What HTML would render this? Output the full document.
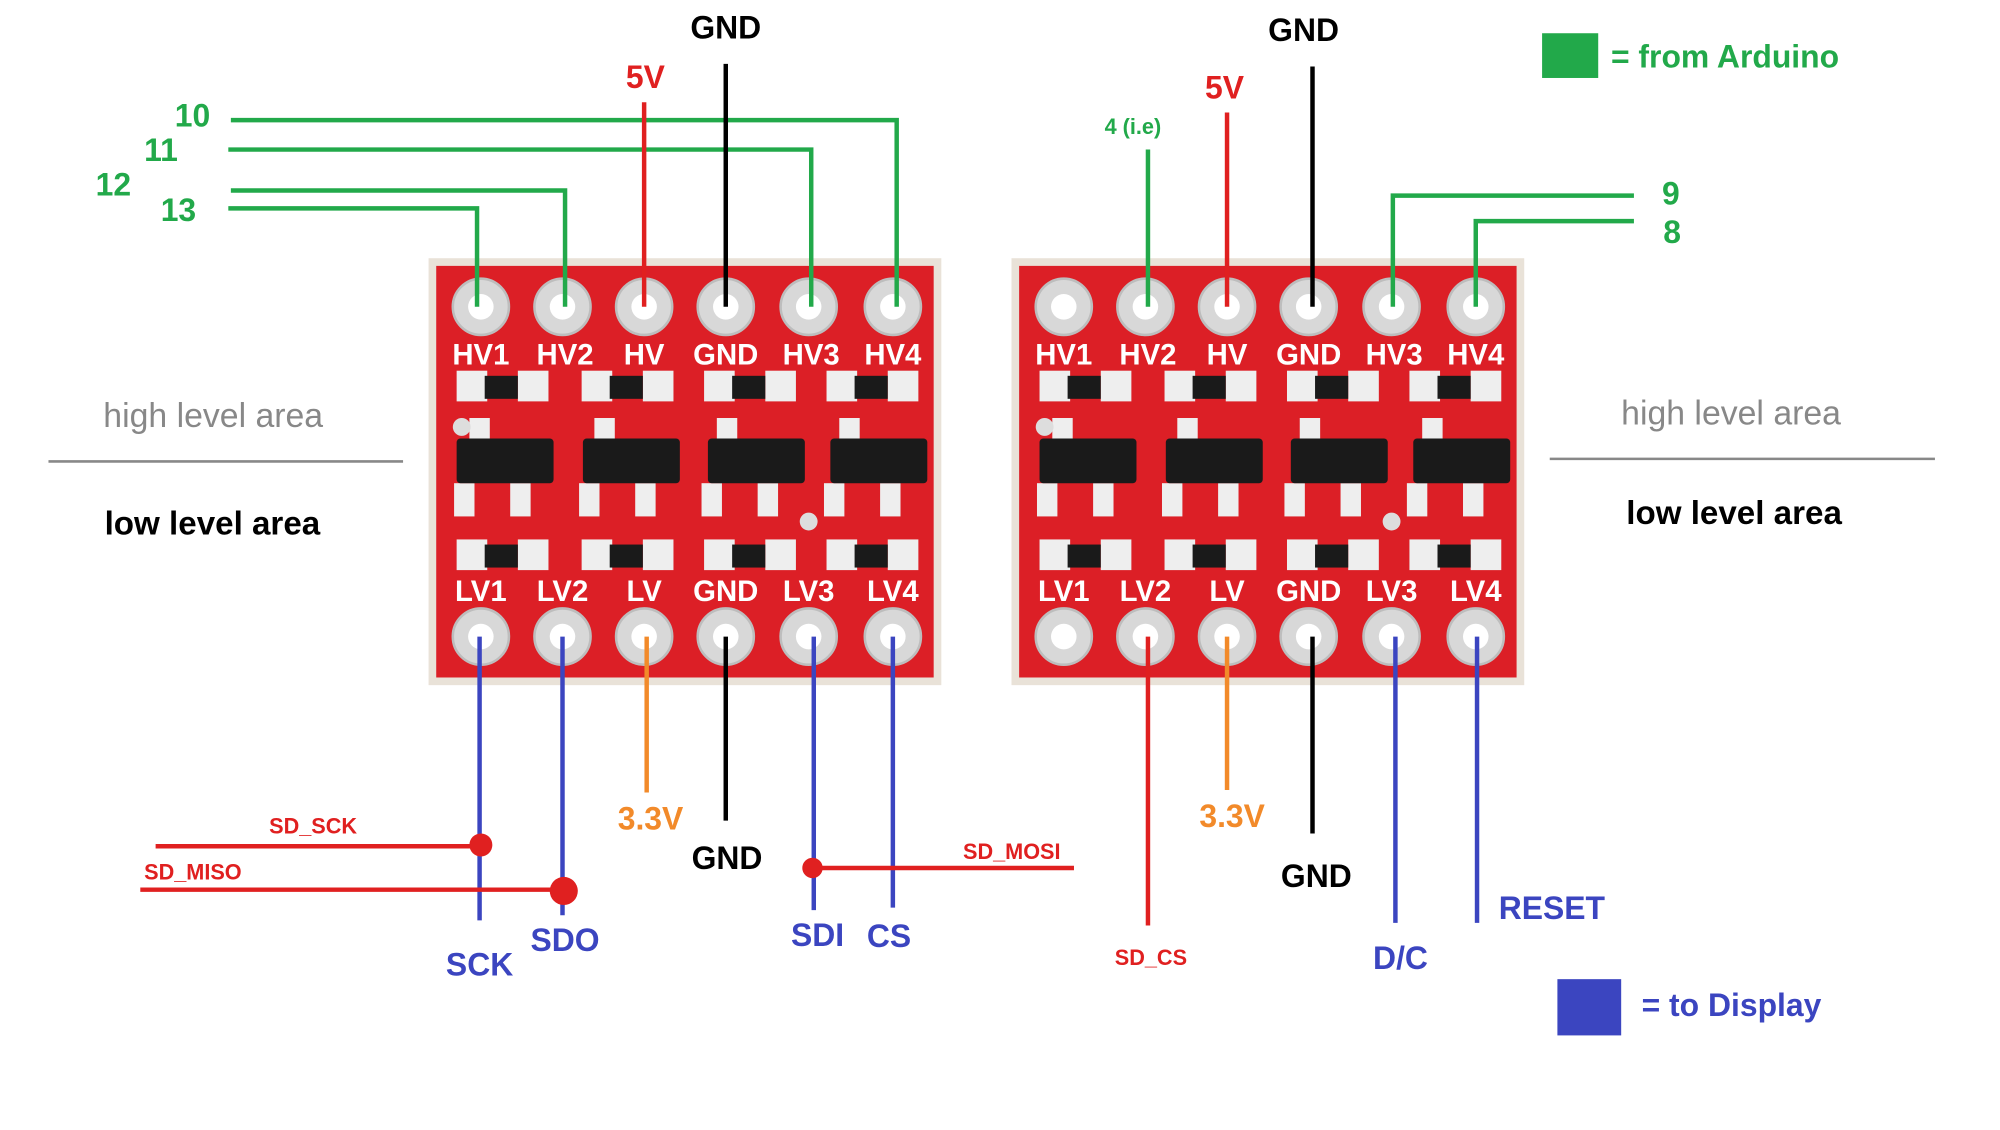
<!DOCTYPE html>
<html><head><meta charset="utf-8"><style>
html,body{margin:0;padding:0;background:#fff;width:2000px;height:1130px;overflow:hidden}
svg{display:block}
text{font-family:"Liberation Sans",sans-serif;font-weight:bold}
</style></head><body>
<svg width="2000" height="1130" viewBox="0 0 1568 884" preserveAspectRatio="none" xmlns="http://www.w3.org/2000/svg">
<defs>
<g id="board">
<rect x="0" y="0" width="402" height="334" fill="#e9e2d8"/>
<rect x="6" y="6" width="390" height="322" fill="#dc1f26"/>
<g fill="#d8d8d8" stroke="#bdbdbd" stroke-width="2">
<circle cx="41" cy="38" r="22"/><circle cx="105" cy="38" r="22"/><circle cx="169" cy="38" r="22"/><circle cx="233" cy="38" r="22"/><circle cx="298" cy="38" r="22"/><circle cx="364" cy="38" r="22"/>
<circle cx="41" cy="296" r="22"/><circle cx="105" cy="296" r="22"/><circle cx="169" cy="296" r="22"/><circle cx="233" cy="296" r="22"/><circle cx="298" cy="296" r="22"/><circle cx="364" cy="296" r="22"/>
</g>
<g fill="#fff">
<circle cx="41" cy="38" r="10"/><circle cx="105" cy="38" r="10"/><circle cx="169" cy="38" r="10"/><circle cx="233" cy="38" r="10"/><circle cx="298" cy="38" r="10"/><circle cx="364" cy="38" r="10"/>
<circle cx="41" cy="296" r="10"/><circle cx="105" cy="296" r="10"/><circle cx="169" cy="296" r="10"/><circle cx="233" cy="296" r="10"/><circle cx="298" cy="296" r="10"/><circle cx="364" cy="296" r="10"/>
</g>
<g fill="#fff" font-size="23" text-anchor="middle" style="font-family:'DejaVu Sans Mono',monospace;font-weight:bold">
<text x="41" y="83">HV1</text><text x="107" y="83">HV2</text><text x="169" y="83">HV</text><text x="233" y="83">GND</text><text x="300" y="83">HV3</text><text x="364" y="83">HV4</text>
<text x="41" y="268">LV1</text><text x="105" y="268">LV2</text><text x="169" y="268">LV</text><text x="233" y="268">GND</text><text x="298" y="268">LV3</text><text x="364" y="268">LV4</text>
</g>
<g fill="#eee">
<rect x="22" y="88" width="24" height="24"/><rect x="70" y="88" width="24" height="24"/>
<rect x="120" y="88" width="24" height="24"/><rect x="168" y="88" width="24" height="24"/>
<rect x="216" y="88" width="24" height="24"/><rect x="264" y="88" width="24" height="24"/>
<rect x="312" y="88" width="24" height="24"/><rect x="360" y="88" width="24" height="24"/>
<rect x="22" y="220" width="24" height="24"/><rect x="70" y="220" width="24" height="24"/>
<rect x="120" y="220" width="24" height="24"/><rect x="168" y="220" width="24" height="24"/>
<rect x="216" y="220" width="24" height="24"/><rect x="264" y="220" width="24" height="24"/>
<rect x="312" y="220" width="24" height="24"/><rect x="360" y="220" width="24" height="24"/>
<rect x="32" y="125" width="16" height="20"/><rect x="130" y="125" width="16" height="20"/><rect x="226" y="125" width="16" height="20"/><rect x="322" y="125" width="16" height="20"/>
<rect x="20" y="176" width="16" height="26"/><rect x="64" y="176" width="16" height="26"/>
<rect x="118" y="176" width="16" height="26"/><rect x="162" y="176" width="16" height="26"/>
<rect x="214" y="176" width="16" height="26"/><rect x="258" y="176" width="16" height="26"/>
<rect x="310" y="176" width="16" height="26"/><rect x="354" y="176" width="16" height="26"/>
</g>
<g fill="#1a1a1a">
<rect x="44" y="92" width="26" height="18"/><rect x="142" y="92" width="26" height="18"/><rect x="238" y="92" width="26" height="18"/><rect x="334" y="92" width="26" height="18"/>
<rect x="44" y="224" width="26" height="18"/><rect x="142" y="224" width="26" height="18"/><rect x="238" y="224" width="26" height="18"/><rect x="334" y="224" width="26" height="18"/>
<rect x="22" y="141" width="76" height="35" rx="3"/><rect x="121" y="141" width="76" height="35" rx="3"/><rect x="219" y="141" width="76" height="35" rx="3"/><rect x="315" y="141" width="76" height="35" rx="3"/>
</g>
<circle cx="26" cy="132" r="7" fill="#ddd"/>
<circle cx="298" cy="206" r="7" fill="#ddd"/>
</g>
</defs>
<use href="#board" x="336" y="202"/>
<use href="#board" x="793" y="202"/>

<g fill="none" stroke-width="3.5">
<polyline stroke="#22a94a" points="181,94 703,94 703,240"/>
<polyline stroke="#22a94a" points="179,117 636,117 636,240"/>
<polyline stroke="#22a94a" points="181,149 443,149 443,240"/>
<polyline stroke="#22a94a" points="179,163 374,163 374,240"/>
<line stroke="#e02020" x1="505" y1="80" x2="505" y2="240"/>
<line stroke="#000" x1="569" y1="50" x2="569" y2="240"/>
<line stroke="#3b45c0" x1="376" y1="498" x2="376" y2="720"/>
<line stroke="#3b45c0" x1="441" y1="498" x2="441" y2="716"/>
<line stroke="#f28a2a" x1="507" y1="498" x2="507" y2="620"/>
<line stroke="#000" x1="569" y1="498" x2="569" y2="642"/>
<line stroke="#3b45c0" x1="638" y1="498" x2="638" y2="712"/>
<line stroke="#3b45c0" x1="700" y1="498" x2="700" y2="710"/>
<line stroke="#e02020" x1="122" y1="662" x2="376" y2="662"/>
<line stroke="#e02020" x1="110" y1="696" x2="441" y2="696"/>
<line stroke="#e02020" x1="638" y1="679" x2="842" y2="679"/>
</g>
<circle cx="377" cy="661" r="9" fill="#e02020"/>
<circle cx="442" cy="697" r="11" fill="#e02020"/>
<circle cx="637" cy="679" r="8" fill="#e02020"/>

<g fill="none" stroke-width="3.5">
<line stroke="#22a94a" x1="900" y1="117" x2="900" y2="240"/>
<line stroke="#e02020" x1="962" y1="88" x2="962" y2="240"/>
<line stroke="#000" x1="1029" y1="52" x2="1029" y2="240"/>
<polyline stroke="#22a94a" points="1281,153 1092,153 1092,240"/>
<polyline stroke="#22a94a" points="1281,173 1157,173 1157,240"/>
<line stroke="#e02020" x1="900" y1="498" x2="900" y2="724"/>
<line stroke="#f28a2a" x1="962" y1="498" x2="962" y2="618"/>
<line stroke="#000" x1="1029" y1="498" x2="1029" y2="652"/>
<line stroke="#3b45c0" x1="1094" y1="498" x2="1094" y2="722"/>
<line stroke="#3b45c0" x1="1158" y1="498" x2="1158" y2="722"/>
</g>

<line x1="38" y1="361" x2="316" y2="361" stroke="#888" stroke-width="2"/>
<line x1="1215" y1="359" x2="1517" y2="359" stroke="#888" stroke-width="2"/>

<g font-size="25">
<text x="569" y="30" text-anchor="middle" fill="#000">GND</text>
<text x="506" y="69" text-anchor="middle" fill="#e02020">5V</text>
<text x="137" y="99" fill="#22a94a">10</text>
<text x="113" y="126" fill="#22a94a">11</text>
<text x="75" y="153" fill="#22a94a">12</text>
<text x="126" y="173" fill="#22a94a">13</text>
<text x="81" y="334" fill="#888" style="font-weight:normal;font-size:26.5px">high level area</text>
<text x="82" y="418" fill="#000" style="font-size:26px">low level area</text>
<text x="510" y="649" text-anchor="middle" fill="#f28a2a">3.3V</text>
<text x="570" y="680" text-anchor="middle" fill="#000">GND</text>
<text x="376" y="763" text-anchor="middle" fill="#3b45c0">SCK</text>
<text x="443" y="744" text-anchor="middle" fill="#3b45c0">SDO</text>
<text x="641" y="740" text-anchor="middle" fill="#3b45c0">SDI</text>
<text x="697" y="741" text-anchor="middle" fill="#3b45c0">CS</text>

<text x="1022" y="32" text-anchor="middle" fill="#000">GND</text>
<text x="960" y="77" text-anchor="middle" fill="#e02020">5V</text>
<text x="1303" y="160" fill="#22a94a">9</text>
<text x="1304" y="190" fill="#22a94a">8</text>
<text x="1271" y="332" fill="#888" style="font-weight:normal;font-size:26.5px">high level area</text>
<text x="1275" y="410" fill="#000" style="font-size:26px">low level area</text>
<text x="966" y="647" text-anchor="middle" fill="#f28a2a">3.3V</text>
<text x="1032" y="694" text-anchor="middle" fill="#000">GND</text>
<text x="1098" y="758" text-anchor="middle" fill="#3b45c0">D/C</text>
<text x="1175" y="719" fill="#3b45c0">RESET</text>
<text x="1263" y="53" fill="#22a94a">= from Arduino</text>
<text x="1287" y="795" fill="#3b45c0">= to Display</text>
</g>
<g font-size="17">
<text x="211" y="652" fill="#e02020">SD_SCK</text>
<text x="113" y="688" fill="#e02020">SD_MISO</text>
<text x="755" y="672" fill="#e02020">SD_MOSI</text>
<text x="874" y="755" fill="#e02020">SD_CS</text>
<text x="866" y="105" fill="#22a94a">4 (i.e)</text>
</g>
<rect x="1209" y="26" width="44" height="35" fill="#22a94a"/>
<rect x="1221" y="766" width="50" height="44" fill="#3b45c0"/>
</svg>
</body></html>
